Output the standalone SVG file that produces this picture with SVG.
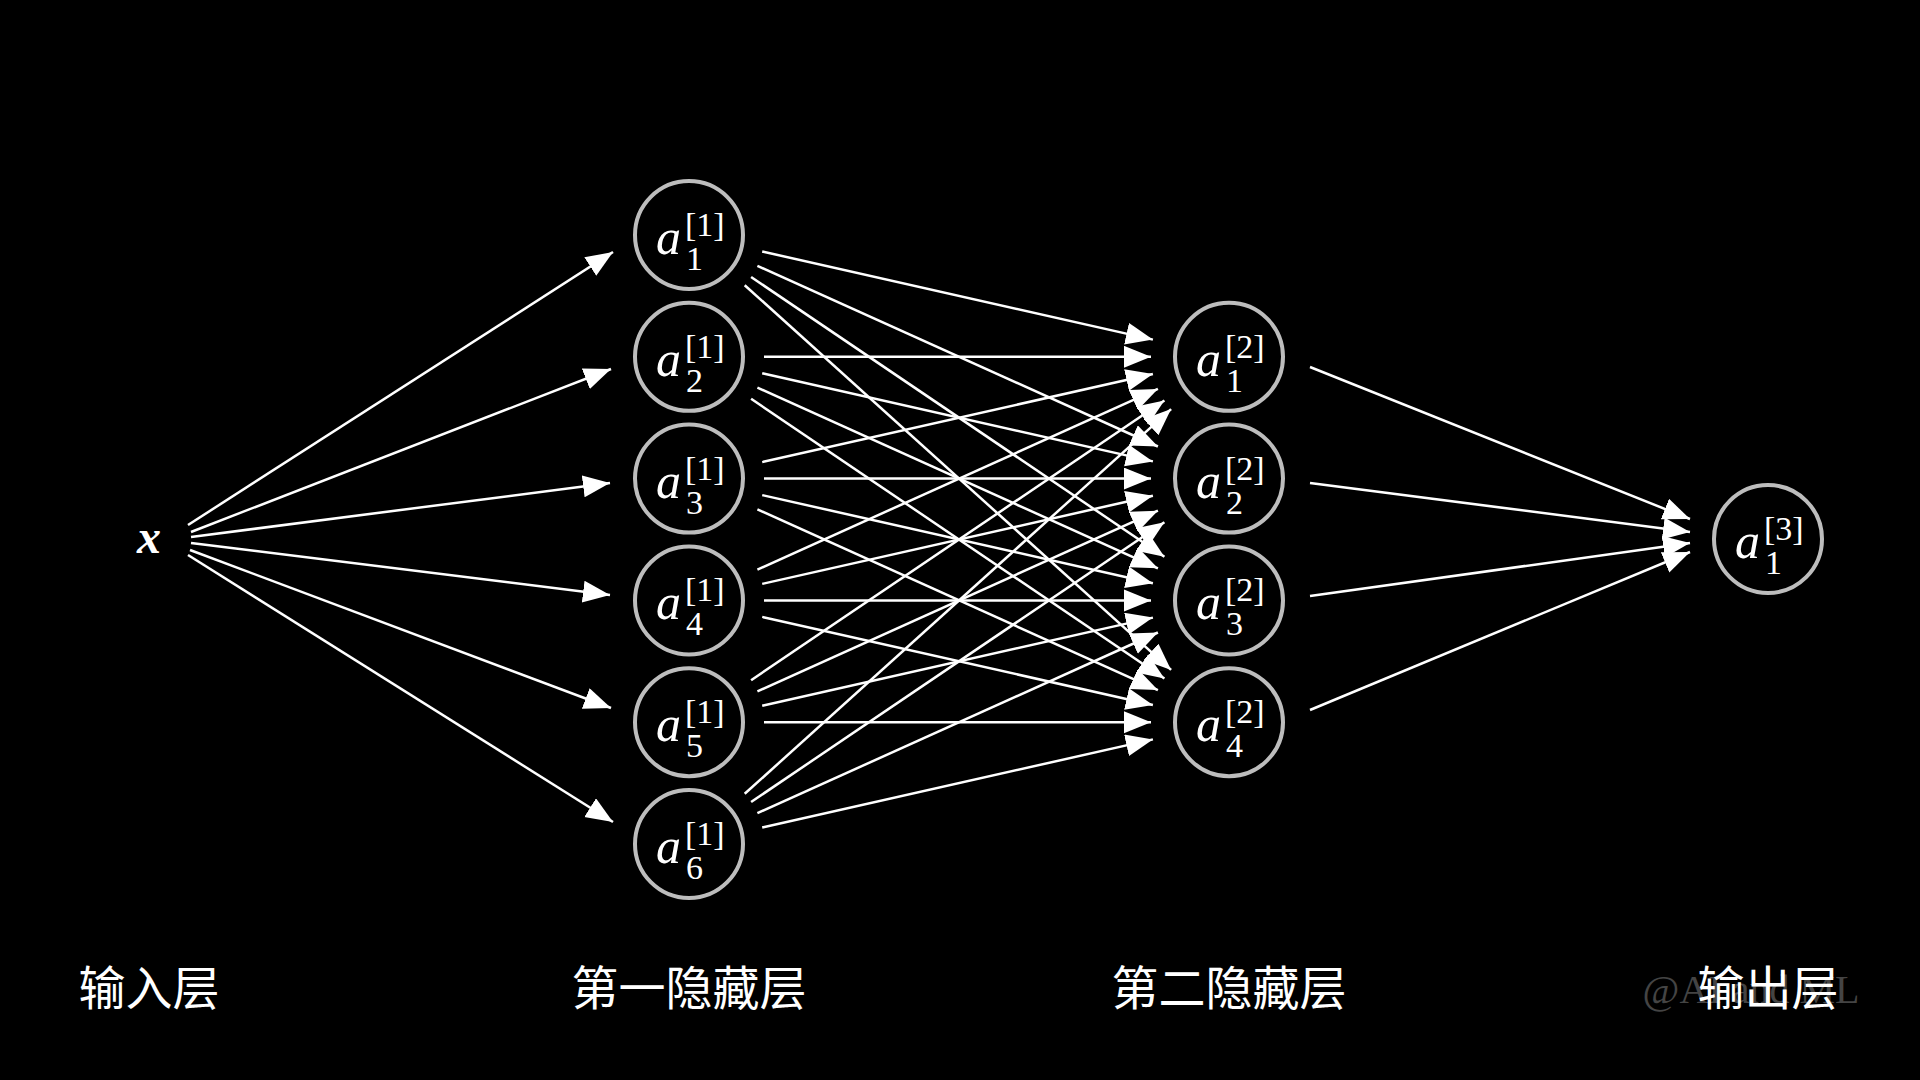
<svg xmlns="http://www.w3.org/2000/svg" width="1920" height="1080" viewBox="0 0 1920 1080">
<style>
.n{fill:none;stroke:#bdbdbd;stroke-width:4}
.m{font-family:"Liberation Serif",serif;font-style:italic;fill:#fff}
.r{font-family:"Liberation Serif",serif;fill:#fff}
.c line{stroke:#fff;stroke-width:2.5;marker-end:url(#ah)}
.lab{font-family:"Noto Sans CJK SC",sans-serif;font-size:47px;fill:#fff;text-anchor:middle}
</style>
<defs>
<marker id="ah" markerUnits="userSpaceOnUse" markerWidth="30" markerHeight="26" refX="27" refY="11" orient="auto"><path d="M0,0 L27,11 L0,22 Z" fill="#fff"/></marker>
<g id="neu"><circle r="54" class="n"/></g>
</defs>
<rect width="1920" height="1080" fill="#000"/>
<text x="1751" y="1003" font-family="Liberation Serif,serif" font-size="40" fill="#444" text-anchor="middle">@AI and ML</text>
<g class="c">
<line x1="188" y1="525" x2="613" y2="252"/>
<line x1="191" y1="532" x2="611" y2="369"/>
<line x1="191" y1="537" x2="610" y2="483"/>
<line x1="191" y1="543" x2="610" y2="595"/>
<line x1="190" y1="550" x2="611" y2="708"/>
<line x1="188" y1="555" x2="613" y2="822"/>
<line x1="762.2" y1="251.5" x2="1152.9" y2="339.6"/>
<line x1="757.4" y1="265.8" x2="1157.9" y2="446.5"/>
<line x1="751.1" y1="277" x2="1164.4" y2="556.7"/>
<line x1="744.7" y1="285.2" x2="1171.1" y2="669.9"/>
<line x1="764" y1="356.8" x2="1151" y2="356.8"/>
<line x1="762.2" y1="373.3" x2="1152.9" y2="461.4"/>
<line x1="757.4" y1="387.6" x2="1157.9" y2="568.3"/>
<line x1="751.1" y1="398.8" x2="1164.4" y2="678.5"/>
<line x1="762.2" y1="462.1" x2="1152.9" y2="374"/>
<line x1="764" y1="478.6" x2="1151" y2="478.6"/>
<line x1="762.2" y1="495.1" x2="1152.9" y2="583.2"/>
<line x1="757.4" y1="509.4" x2="1157.9" y2="690.1"/>
<line x1="757.4" y1="569.6" x2="1157.9" y2="388.9"/>
<line x1="762.2" y1="583.9" x2="1152.9" y2="495.8"/>
<line x1="764" y1="600.4" x2="1151" y2="600.4"/>
<line x1="762.2" y1="616.9" x2="1152.9" y2="705"/>
<line x1="751.1" y1="680.2" x2="1164.4" y2="400.5"/>
<line x1="757.4" y1="691.4" x2="1157.9" y2="510.7"/>
<line x1="762.2" y1="705.7" x2="1152.9" y2="617.6"/>
<line x1="764" y1="722.2" x2="1151" y2="722.2"/>
<line x1="744.7" y1="793.8" x2="1171.1" y2="409.1"/>
<line x1="751.1" y1="802" x2="1164.4" y2="522.3"/>
<line x1="757.4" y1="813.2" x2="1157.9" y2="632.5"/>
<line x1="762.2" y1="827.5" x2="1152.9" y2="739.4"/>
<line x1="1310" y1="367" x2="1690" y2="519"/>
<line x1="1310" y1="483" x2="1690" y2="532"/>
<line x1="1310" y1="596" x2="1690" y2="543"/>
<line x1="1310" y1="710" x2="1690" y2="552"/>
</g>
<g id="x"><text x="149" y="553" class="m" font-weight="bold" font-size="48" text-anchor="middle">x</text></g>
<g id="h1_1" transform="translate(689,235)"><use href="#neu"/><text x="-33" y="19" class="m" font-size="50">a</text><text x="-4" y="1" class="r" font-size="34">[1]</text><text x="-3" y="35" class="r" font-size="34">1</text></g>
<g id="h1_2" transform="translate(689,356.8)"><use href="#neu"/><text x="-33" y="19" class="m" font-size="50">a</text><text x="-4" y="1" class="r" font-size="34">[1]</text><text x="-3" y="35" class="r" font-size="34">2</text></g>
<g id="h1_3" transform="translate(689,478.6)"><use href="#neu"/><text x="-33" y="19" class="m" font-size="50">a</text><text x="-4" y="1" class="r" font-size="34">[1]</text><text x="-3" y="35" class="r" font-size="34">3</text></g>
<g id="h1_4" transform="translate(689,600.4)"><use href="#neu"/><text x="-33" y="19" class="m" font-size="50">a</text><text x="-4" y="1" class="r" font-size="34">[1]</text><text x="-3" y="35" class="r" font-size="34">4</text></g>
<g id="h1_5" transform="translate(689,722.2)"><use href="#neu"/><text x="-33" y="19" class="m" font-size="50">a</text><text x="-4" y="1" class="r" font-size="34">[1]</text><text x="-3" y="35" class="r" font-size="34">5</text></g>
<g id="h1_6" transform="translate(689,844)"><use href="#neu"/><text x="-33" y="19" class="m" font-size="50">a</text><text x="-4" y="1" class="r" font-size="34">[1]</text><text x="-3" y="35" class="r" font-size="34">6</text></g>
<g id="h2_1" transform="translate(1229,356.8)"><use href="#neu"/><text x="-33" y="19" class="m" font-size="50">a</text><text x="-4" y="1" class="r" font-size="34">[2]</text><text x="-3" y="35" class="r" font-size="34">1</text></g>
<g id="h2_2" transform="translate(1229,478.6)"><use href="#neu"/><text x="-33" y="19" class="m" font-size="50">a</text><text x="-4" y="1" class="r" font-size="34">[2]</text><text x="-3" y="35" class="r" font-size="34">2</text></g>
<g id="h2_3" transform="translate(1229,600.4)"><use href="#neu"/><text x="-33" y="19" class="m" font-size="50">a</text><text x="-4" y="1" class="r" font-size="34">[2]</text><text x="-3" y="35" class="r" font-size="34">3</text></g>
<g id="h2_4" transform="translate(1229,722.2)"><use href="#neu"/><text x="-33" y="19" class="m" font-size="50">a</text><text x="-4" y="1" class="r" font-size="34">[2]</text><text x="-3" y="35" class="r" font-size="34">4</text></g>
<g id="out" transform="translate(1768,539)"><use href="#neu"/><text x="-33" y="19" class="m" font-size="50">a</text><text x="-4" y="1" class="r" font-size="34">[3]</text><text x="-3" y="35" class="r" font-size="34">1</text></g>
<g id="labels">
<text x="149" y="1005" class="lab">输入层</text>
<text x="689" y="1005" class="lab">第一隐藏层</text>
<text x="1229" y="1005" class="lab">第二隐藏层</text>
<text x="1768" y="1005" class="lab">输出层</text>
</g>
</svg>
